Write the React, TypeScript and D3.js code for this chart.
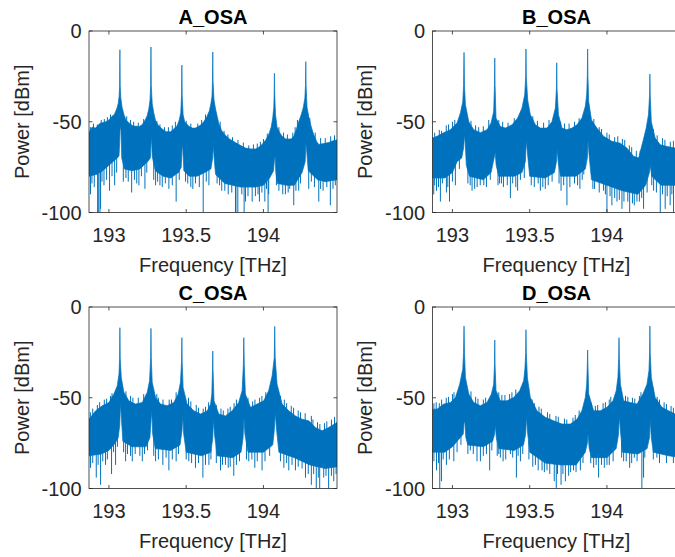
import React from 'react';
import * as d3 from 'd3';

type P = [number, number];

const freqDomain: P = [192.871, 194.476];
const powerDomain: P = [-100, 0];
const xTicks = [193, 193.5, 194];
const yTicks = [0, -50, -100];
const titles = ['A_OSA', 'B_OSA', 'C_OSA', 'D_OSA'];
const xLabel = 'Frequency [THz]';
const yLabel = 'Power [dBm]';

// ---- A_OSA ----
const upperA: P[] = [[192.871,-56],[192.89,-53],[192.914,-53.5],[192.94,-51],[192.957,-50.5],[192.98,-50],[193.0,-49],[193.02,-47],[193.035,-46],[193.05,-43],[193.06,-40],[193.066,-36],[193.069,-30],[193.071,-10.3],[193.073,-30],[193.077,-37],[193.085,-42],[193.097,-46],[193.11,-49],[193.129,-50.5],[193.15,-52],[193.172,-52.5],[193.2,-52.5],[193.216,-51.5],[193.235,-49],[193.248,-46.5],[193.258,-43],[193.266,-38],[193.27,-30],[193.272,-8.8],[193.274,-30],[193.28,-40],[193.29,-45],[193.302,-49.5],[193.32,-52],[193.345,-54],[193.37,-55.5],[193.399,-55.5],[193.42,-54],[193.442,-52],[193.455,-49],[193.465,-45],[193.47,-35],[193.472,-18.8],[193.474,-35],[193.48,-46],[193.49,-50],[193.517,-52.5],[193.54,-53.5],[193.56,-53.5],[193.59,-52],[193.614,-50],[193.635,-47],[193.65,-44],[193.66,-40],[193.667,-36],[193.67,-28],[193.672,-11.6],[193.674,-28],[193.68,-38],[193.69,-43],[193.711,-51],[193.73,-55],[193.754,-57.5],[193.78,-59.5],[193.819,-61.5],[193.85,-63],[193.884,-64.5],[193.92,-65],[193.948,-65],[193.97,-64],[193.991,-62.5],[194.015,-60],[194.034,-57],[194.05,-53],[194.06,-48],[194.067,-42],[194.069,-35],[194.071,-23.3],[194.073,-35],[194.078,-46],[194.088,-53],[194.105,-56],[194.121,-58],[194.145,-59.5],[194.164,-59.5],[194.18,-59.5],[194.196,-58],[194.21,-55],[194.228,-50],[194.245,-46],[194.258,-42],[194.268,-37],[194.272,-30],[194.274,-16.9],[194.276,-30],[194.282,-42],[194.293,-47],[194.31,-53],[194.325,-57],[194.345,-61],[194.358,-62.5],[194.39,-62],[194.422,-61.5],[194.45,-60.5],[194.476,-60]];
const lowerA: P[] = [[192.871,-80],[192.92,-79],[192.96,-77],[193.0,-74],[193.04,-71],[193.065,-69],[193.069,-62],[193.073,-52],[193.078,-55],[193.083,-70],[193.1,-76],[193.15,-77],[193.2,-76],[193.25,-72],[193.268,-70],[193.272,-63],[193.276,-58],[193.28,-69],[193.3,-77],[193.35,-80],[193.4,-81],[193.45,-78],[193.468,-75],[193.474,-63],[193.478,-65],[193.485,-77],[193.52,-80],[193.57,-80],[193.62,-78],[193.66,-76],[193.671,-70],[193.675,-63],[193.683,-72],[193.69,-79],[193.75,-84],[193.8,-85],[193.85,-86],[193.9,-86],[193.95,-86],[194.0,-85],[194.04,-81],[194.065,-77],[194.071,-71],[194.075,-69],[194.08,-78],[194.09,-84],[194.15,-85],[194.2,-85],[194.25,-78],[194.27,-72],[194.275,-62],[194.279,-65],[194.29,-77],[194.35,-82],[194.4,-83],[194.476,-82]];
const dipsA: P[] = [[192.881,-90],[192.927,-100],[192.931,-100],[192.942,-100],[192.946,-98],[192.968,-85],[193.004,-88],[193.037,-85],[193.093,-83],[193.147,-89],[193.194,-85],[193.233,-87],[193.302,-85],[193.33,-85],[193.388,-87],[193.435,-94],[193.496,-83],[193.543,-87],[193.61,-100],[193.647,-85],[193.716,-85],[193.772,-90],[193.819,-100],[193.822,-100],[193.834,-100],[193.875,-100],[193.884,-94],[193.927,-94],[193.948,-91],[193.974,-94],[194.009,-94],[194.03,-100],[194.034,-90],[194.084,-85],[194.142,-90],[194.17,-87],[194.196,-96],[194.228,-88],[194.293,-87],[194.358,-94],[194.386,-88],[194.433,-96],[194.465,-85]];
const fringeA: P[] = [[192.89,-84],[192.905,-86],[192.955,-83],[192.985,-82],[193.02,-80],[193.05,-78],[193.11,-81],[193.125,-83],[193.165,-82],[193.18,-84],[193.21,-80],[193.245,-78],[193.29,-82],[193.315,-83],[193.345,-86],[193.365,-84],[193.41,-85],[193.455,-82],[193.51,-84],[193.53,-86],[193.56,-84],[193.585,-86],[193.63,-83],[193.7,-84],[193.73,-88],[193.75,-88],[193.795,-89],[193.86,-90],[193.9,-91],[193.965,-90],[193.99,-89],[194.02,-87],[194.1,-88],[194.125,-90],[194.16,-89],[194.21,-88],[194.24,-84],[194.31,-83],[194.33,-86],[194.37,-87],[194.41,-86],[194.45,-87]];
const crestA: P[] = [[192.88,-53],[192.9,-51],[192.925,-51.5],[192.95,-49],[192.97,-48.5],[192.99,-47.5],[193.01,-46],[193.115,-47],[193.14,-49],[193.16,-50],[193.19,-50.5],[193.225,-48.5],[193.31,-49.5],[193.33,-51.5],[193.36,-53],[193.385,-53],[193.41,-52],[193.43,-50],[193.5,-49.5],[193.53,-51],[193.575,-51],[193.6,-49],[193.625,-46],[193.72,-50],[193.745,-55],[193.77,-57],[193.8,-58.5],[193.835,-60],[193.87,-61.5],[193.905,-63],[193.935,-62.5],[193.96,-62],[193.98,-61],[194.0,-59.5],[194.025,-56.5],[194.1,-53],[194.13,-56],[194.155,-57],[194.19,-56],[194.205,-53],[194.22,-49],[194.3,-48],[194.335,-56],[194.37,-59],[194.4,-59],[194.435,-58],[194.46,-57.5]];

// ---- B_OSA ----
const upperB: P[] = [[192.871,-59],[192.9,-58],[192.944,-56],[192.987,-54.4],[193.03,-50.7],[193.052,-45],[193.067,-39],[193.072,-30],[193.075,-11.8],[193.078,-30],[193.084,-40.6],[193.106,-50],[193.138,-54.4],[193.181,-56],[193.224,-54.4],[193.25,-50.7],[193.267,-44.3],[193.272,-30],[193.274,-14.9],[193.276,-30],[193.282,-48],[193.31,-52.6],[193.343,-53.5],[193.386,-51.7],[193.422,-48],[193.45,-42.5],[193.468,-35],[193.474,-25],[193.476,-9.9],[193.478,-25],[193.487,-38],[193.504,-46],[193.537,-51.7],[193.569,-53.5],[193.612,-53.5],[193.644,-50],[193.666,-42.5],[193.673,-32],[193.675,-17.5],[193.677,-32],[193.686,-46],[193.709,-53.5],[193.741,-54.4],[193.774,-53.5],[193.806,-51.7],[193.838,-48],[193.86,-41.5],[193.869,-35],[193.873,-25],[193.875,-9.9],[193.877,-25],[193.882,-39],[193.9,-49],[193.935,-53.5],[193.978,-58],[194.032,-60.8],[194.086,-61.8],[194.129,-64.5],[194.172,-69],[194.205,-70],[194.233,-60.8],[194.254,-53.5],[194.269,-46],[194.276,-35],[194.278,-23.7],[194.28,-35],[194.287,-50],[194.312,-59],[194.345,-62.7],[194.388,-63.6],[194.442,-64.5],[194.476,-64.5]];
const lowerB: P[] = [[192.871,-81],[192.95,-81],[193.0,-78],[193.03,-72],[193.06,-70],[193.073,-64],[193.078,-57],[193.083,-62],[193.09,-74],[193.11,-80],[193.2,-82],[193.25,-78],[193.27,-70],[193.277,-67],[193.283,-74],[193.3,-80],[193.4,-80],[193.45,-78],[193.472,-72],[193.478,-60],[193.484,-66],[193.5,-80],[193.6,-81],[193.66,-78],[193.673,-72],[193.678,-65],[193.684,-72],[193.7,-80],[193.8,-80],[193.86,-76],[193.873,-70],[193.878,-60],[193.884,-68],[193.9,-82],[194.0,-85],[194.1,-88],[194.2,-90],[194.25,-85],[194.275,-78],[194.28,-74],[194.29,-80],[194.35,-85],[194.476,-85]];
const dipsB: P[] = [[192.879,-90],[192.897,-88],[192.922,-94],[192.961,-89],[192.981,-94],[193.019,-85],[193.127,-88],[193.144,-87],[193.203,-85],[193.295,-85],[193.317,-84],[193.375,-92],[193.422,-88],[193.465,-81],[193.569,-88],[193.601,-87],[193.703,-88],[193.741,-96],[193.825,-87],[193.85,-79],[193.909,-87],[193.978,-88],[194.0,-100],[194.032,-96],[194.065,-94],[194.097,-98],[194.147,-100],[194.177,-96],[194.194,-94],[194.237,-98],[194.302,-88],[194.345,-100],[194.377,-98],[194.409,-96],[194.431,-100]];
const fringeB: P[] = [[192.885,-85],[192.91,-86],[192.935,-84],[192.97,-86],[193.0,-83],[193.045,-76],[193.1,-84],[193.115,-85],[193.16,-86],[193.18,-85],[193.22,-86],[193.245,-82],[193.305,-84],[193.33,-86],[193.355,-85],[193.39,-84],[193.41,-86],[193.44,-82],[193.51,-85],[193.53,-86],[193.555,-84],[193.585,-86],[193.62,-85],[193.645,-83],[193.69,-84],[193.72,-85],[193.76,-86],[193.79,-84],[193.81,-85],[193.84,-82],[193.92,-87],[193.95,-89],[193.99,-90],[194.02,-91],[194.05,-92],[194.08,-93],[194.11,-94],[194.135,-94],[194.165,-95],[194.21,-94],[194.225,-92],[194.26,-89],[194.29,-85],[194.32,-89],[194.36,-90],[194.39,-91],[194.42,-90],[194.45,-91]];
const crestB: P[] = [[192.885,-56],[192.915,-54.5],[192.93,-55],[192.96,-52],[192.975,-51.5],[193.0,-50],[193.015,-49],[193.12,-49.5],[193.15,-52],[193.17,-53],[193.2,-52.5],[193.235,-49],[193.3,-49],[193.325,-50],[193.36,-50.5],[193.4,-48],[193.52,-47],[193.55,-49.5],[193.59,-50.5],[193.625,-49],[193.7,-50],[193.725,-51],[193.755,-51],[193.79,-50],[193.82,-48],[193.915,-48.5],[193.95,-53],[193.965,-54],[194.0,-56],[194.015,-57],[194.05,-58.5],[194.07,-58],[194.1,-59.5],[194.115,-60],[194.145,-63],[194.16,-64],[194.19,-66],[194.215,-66],[194.3,-54],[194.325,-57.5],[194.36,-59],[194.375,-60],[194.41,-61],[194.43,-60.5],[194.455,-61]];

// ---- C_OSA ----
const upperC: P[] = [[192.871,-61.8],[192.914,-57.2],[192.957,-54.4],[193.0,-52.6],[193.032,-48],[193.054,-43.4],[193.065,-37],[193.069,-28],[193.071,-11.4],[193.073,-28],[193.08,-39],[193.097,-47],[193.129,-51.7],[193.172,-53.5],[193.216,-52.6],[193.248,-47],[193.263,-40.6],[193.27,-28],[193.272,-11.8],[193.274,-28],[193.28,-41.5],[193.302,-49.8],[193.334,-53.5],[193.377,-54.4],[193.42,-52.6],[193.448,-48],[193.463,-41.5],[193.47,-30],[193.472,-16.9],[193.474,-30],[193.48,-44.3],[193.506,-53.5],[193.55,-57.2],[193.593,-59],[193.636,-57.2],[193.658,-53.5],[193.666,-48],[193.67,-35],[193.672,-24.3],[193.674,-35],[193.68,-51.7],[193.711,-59],[193.754,-60],[193.797,-57.2],[193.84,-52.6],[193.862,-46],[193.87,-32],[193.873,-16.9],[193.876,-32],[193.883,-48],[193.916,-55.3],[193.959,-53.5],[194.002,-51.7],[194.034,-46],[194.056,-38],[194.07,-28],[194.073,-10.7],[194.076,-28],[194.088,-42.5],[194.121,-53.5],[194.164,-57.2],[194.207,-60],[194.25,-61.8],[194.293,-62.7],[194.336,-66.4],[194.379,-68.2],[194.422,-66.4],[194.476,-63.6]];
const lowerC: P[] = [[192.871,-82],[192.95,-81],[193.0,-79],[193.04,-75],[193.06,-72],[193.07,-65],[193.075,-53],[193.08,-60],[193.09,-74],[193.15,-77],[193.24,-77],[193.265,-72],[193.273,-62],[193.277,-57],[193.283,-70],[193.3,-78],[193.4,-79],[193.46,-76],[193.473,-68],[193.478,-60],[193.484,-70],[193.5,-80],[193.6,-82],[193.66,-80],[193.672,-72],[193.676,-62],[193.683,-70],[193.7,-82],[193.8,-83],[193.855,-80],[193.868,-72],[193.874,-61],[193.88,-70],[193.9,-80],[194.0,-80],[194.06,-76],[194.07,-68],[194.077,-58],[194.083,-66],[194.1,-80],[194.2,-83],[194.3,-87],[194.4,-89],[194.476,-88]];
const dipsC: P[] = [[192.881,-88.6],[192.918,-94],[192.946,-98],[192.978,-87],[193.017,-92],[193.043,-87],[193.108,-85],[193.151,-85],[193.216,-85],[193.302,-85],[193.349,-87],[193.388,-90],[193.435,-85],[193.517,-85],[193.56,-88.6],[193.608,-94],[193.647,-87],[193.722,-90],[193.754,-87],[193.772,-88.6],[193.808,-93],[193.905,-85],[193.944,-88.6],[193.991,-90],[194.132,-88.6],[194.164,-90],[194.207,-90],[194.272,-94],[194.31,-98],[194.342,-100],[194.364,-100],[194.39,-94],[194.422,-100],[194.455,-96]];
const fringeC: P[] = [[192.895,-86],[192.93,-87],[192.96,-85],[192.99,-84],[193.03,-80],[193.055,-77],[193.095,-80],[193.12,-81],[193.14,-82],[193.17,-81],[193.2,-82],[193.23,-81],[193.25,-79],[193.29,-82],[193.32,-84],[193.37,-83],[193.41,-84],[193.45,-81],[193.5,-84],[193.535,-86],[193.58,-86],[193.625,-87],[193.66,-84],[193.695,-86],[193.735,-87],[193.785,-88],[193.825,-87],[193.845,-85],[193.89,-84],[193.925,-84],[193.96,-85],[194.01,-85],[194.04,-82],[194.11,-85],[194.15,-86],[194.185,-87],[194.225,-88],[194.25,-89],[194.29,-92],[194.325,-92],[194.355,-94],[194.405,-93],[194.44,-93],[194.47,-92]];
const crestC: P[] = [[192.88,-58],[192.895,-56],[192.925,-54],[192.94,-52.5],[192.97,-51],[192.985,-50.5],[193.01,-49],[193.02,-47.5],[193.11,-46.5],[193.14,-49],[193.155,-50],[193.19,-50],[193.225,-48],[193.31,-48],[193.32,-50],[193.35,-51],[193.39,-51],[193.405,-51],[193.435,-47],[193.515,-50],[193.53,-52],[193.565,-54],[193.58,-55.5],[193.61,-56],[193.625,-55],[193.645,-52.5],[193.695,-54],[193.725,-56],[193.74,-57],[193.77,-56],[193.785,-55],[193.81,-53],[193.825,-51],[193.9,-50],[193.93,-52],[193.945,-51],[193.975,-50],[193.99,-49],[194.015,-47],[194.11,-49],[194.135,-51],[194.15,-53],[194.18,-54.5],[194.195,-55.5],[194.225,-57],[194.24,-58],[194.27,-58.5],[194.31,-60],[194.32,-62],[194.35,-63.5],[194.365,-64.5],[194.395,-64],[194.41,-63],[194.44,-62],[194.46,-60.5]];

// ---- D_OSA ----
const upperD: P[] = [[192.871,-56.3],[192.9,-56.3],[192.944,-53.5],[192.987,-52.6],[193.019,-50],[193.047,-42.5],[193.067,-34.2],[193.072,-25],[193.075,-10.5],[193.078,-25],[193.084,-38.8],[193.106,-48],[193.138,-52.6],[193.181,-54.4],[193.224,-52.6],[193.252,-48],[193.267,-42.5],[193.272,-32],[193.274,-18.2],[193.276,-32],[193.282,-46],[193.31,-51.7],[193.353,-51.7],[193.397,-49.8],[193.435,-46.1],[193.461,-40.6],[193.469,-34.2],[193.474,-25],[193.476,-12.5],[193.478,-25],[193.485,-38.8],[193.504,-49.8],[193.547,-57.2],[193.601,-60.8],[193.655,-62.7],[193.709,-64.5],[193.763,-64.5],[193.806,-61.8],[193.838,-57.2],[193.86,-49.8],[193.869,-42.5],[193.873,-32],[193.875,-23.7],[193.877,-32],[193.882,-48],[193.914,-57.2],[193.957,-57.2],[194.0,-55.3],[194.039,-51.7],[194.06,-46.1],[194.071,-38.8],[194.076,-28],[194.078,-16.9],[194.08,-28],[194.087,-42.5],[194.108,-51.7],[194.151,-52.6],[194.194,-53.5],[194.233,-48],[194.259,-42.5],[194.272,-35],[194.276,-25],[194.278,-10.5],[194.28,-25],[194.287,-38.8],[194.312,-49.8],[194.356,-55.3],[194.399,-57.2],[194.442,-59],[194.476,-59]];
const lowerD: P[] = [[192.871,-80],[192.95,-80],[193.0,-77],[193.04,-73],[193.07,-70],[193.075,-64],[193.08,-63],[193.087,-72],[193.1,-76],[193.2,-77],[193.26,-74],[193.273,-70],[193.278,-65],[193.284,-72],[193.3,-78],[193.4,-79],[193.46,-76],[193.474,-70],[193.479,-60],[193.485,-68],[193.5,-80],[193.6,-86],[193.7,-87],[193.8,-87],[193.86,-80],[193.873,-75],[193.878,-70],[193.885,-78],[193.9,-83],[194.0,-83],[194.06,-78],[194.075,-70],[194.08,-60],[194.087,-68],[194.1,-80],[194.2,-81],[194.26,-78],[194.275,-72],[194.28,-62],[194.287,-72],[194.3,-80],[194.4,-82],[194.476,-83]];
const dipsD: P[] = [[192.869,-94],[192.897,-90],[192.918,-100],[192.929,-96],[192.961,-87],[193.009,-85],[193.116,-79],[193.159,-85],[193.181,-85],[193.241,-90],[193.3,-81],[193.328,-85],[193.375,-81],[193.414,-94],[193.44,-85],[193.537,-87],[193.58,-90],[193.612,-90],[193.659,-96],[193.672,-100],[193.703,-98],[193.731,-96],[193.752,-93],[193.784,-90],[193.828,-90],[193.914,-88.6],[193.946,-94],[193.983,-88.6],[194.015,-87],[194.108,-85],[194.147,-88.6],[194.177,-83],[194.226,-100],[194.237,-94],[194.323,-83],[194.366,-79],[194.409,-81]];
const fringeD: P[] = [[192.88,-85],[192.91,-86],[192.94,-84],[192.98,-84],[193.03,-80],[193.055,-76],[193.1,-81],[193.135,-81],[193.2,-82],[193.22,-81],[193.255,-79],[193.29,-82],[193.31,-83],[193.345,-84],[193.39,-83],[193.425,-82],[193.455,-81],[193.495,-84],[193.52,-88],[193.555,-90],[193.595,-91],[193.63,-92],[193.68,-92],[193.715,-92],[193.765,-91],[193.8,-91],[193.845,-86],[193.895,-86],[193.93,-87],[193.965,-87],[194.0,-87],[194.04,-85],[194.095,-83],[194.125,-85],[194.16,-86],[194.195,-85],[194.245,-83],[194.3,-84],[194.34,-86],[194.385,-86],[194.43,-86],[194.46,-87]];
const crestD: P[] = [[192.88,-53],[192.895,-52.5],[192.915,-53],[192.93,-51],[192.96,-50],[192.975,-49.5],[193.0,-48],[193.01,-47],[193.12,-46.5],[193.15,-49.5],[193.165,-50.5],[193.2,-51],[193.215,-50],[193.3,-47],[193.32,-48.5],[193.34,-48.5],[193.37,-48],[193.385,-47],[193.41,-45.5],[193.515,-51],[193.53,-53],[193.56,-55],[193.575,-56],[193.615,-58],[193.63,-59],[193.67,-60],[193.685,-60.5],[193.725,-61.5],[193.74,-62],[193.78,-61],[193.795,-59.5],[193.82,-57],[193.9,-53],[193.925,-54.5],[193.94,-54],[193.975,-53],[193.99,-52.5],[194.015,-51],[194.025,-49.5],[194.095,-47],[194.12,-49],[194.135,-49.5],[194.165,-50],[194.18,-50.5],[194.21,-49],[194.22,-47],[194.3,-45],[194.325,-49.5],[194.34,-51],[194.37,-52.5],[194.385,-53.5],[194.415,-54.5],[194.43,-55.5],[194.46,-56]];

const uppers = [upperA, upperB, upperC, upperD];
const lowers = [lowerA, lowerB, lowerC, lowerD];
const dipsAll = [dipsA, dipsB, dipsC, dipsD];
const fringesAll = [fringeA, fringeB, fringeC, fringeD];
const crestsAll = [crestA, crestB, crestC, crestD];

const LINE = '#0072BD';
const AX = '#262626';
const FONT = '"Liberation Sans", Arial, Helvetica, sans-serif';
const W = 248;
const H = 181.5;
const layout = [
  { left: 89, top: 31 },
  { left: 432.5, top: 31 },
  { left: 89, top: 307 },
  { left: 432.5, top: 307 },
];

function interpAt(arr: P[], f: number) {
  const bis = d3.bisector((d: P) => d[0]).left;
  const i = Math.max(1, Math.min(arr.length - 1, bis(arr, f)));
  const a = arr[i - 1];
  const b = arr[i];
  const t = (f - a[0]) / (b[0] - a[0]);
  return a[1] + t * (b[1] - a[1]);
}

function Panel({ idx }: { idx: number }) {
  const { left, top } = layout[idx];
  const upper = uppers[idx];
  const lower = lowers[idx];
  const dips = [...dipsAll[idx], ...fringesAll[idx]];
  const crests = crestsAll[idx];
  const x = d3.scaleLinear().domain(freqDomain).range([left, left + W]);
  const y = d3.scaleLinear().domain(powerDomain).range([top + H, top]);
  const line = d3.line<P>().x((d) => x(d[0])).y((d) => y(d[1]));
  const band = line([...upper, ...[...lower].reverse()]) + 'Z';
  const clipId = `clip${idx}`;
  const tl = 3.5;
  const bottom = top + H;
  const right = left + W;
  return (
    <g>
      <defs>
        <clipPath id={clipId}>
          <rect x={left} y={top} width={W} height={H} />
        </clipPath>
      </defs>
      <g clipPath={`url(#${clipId})`}>
        <path d={band} fill={LINE} stroke={LINE} strokeWidth={0.7} strokeLinejoin="round" />
        {dips.map((d, i) => (
          <line key={'d' + i} x1={x(d[0])} x2={x(d[0])} y1={y(interpAt(lower, d[0]) + 2)} y2={y(d[1])} stroke={LINE} strokeWidth={1} />
        ))}
        {crests.map((d, i) => (
          <line key={'c' + i} x1={x(d[0])} x2={x(d[0])} y1={y(interpAt(upper, d[0]) - 1.5)} y2={y(d[1])} stroke={LINE} strokeWidth={1} />
        ))}
      </g>
      <rect x={left} y={top} width={W} height={H} fill="none" stroke={AX} strokeWidth={0.8} />
      {xTicks.map((t) => (
        <g key={'x' + t}>
          <line x1={x(t)} x2={x(t)} y1={bottom} y2={bottom - tl} stroke={AX} strokeWidth={0.8} />
          <line x1={x(t)} x2={x(t)} y1={top} y2={top + tl} stroke={AX} strokeWidth={0.8} />
          <text x={x(t)} y={bottom + 29.5} textAnchor="middle" fontSize={20} fill={AX} fontFamily={FONT}>{t}</text>
        </g>
      ))}
      {yTicks.map((t) => (
        <g key={'y' + t}>
          <line x1={left} x2={left + tl} y1={y(t)} y2={y(t)} stroke={AX} strokeWidth={0.8} />
          <line x1={right} x2={right - tl} y1={y(t)} y2={y(t)} stroke={AX} strokeWidth={0.8} />
          <text x={left - 7.5} y={y(t) + 7} textAnchor="end" fontSize={20} fill={AX} fontFamily={FONT}>{t}</text>
        </g>
      ))}
      <text x={left + W / 2} y={bottom + 59.5} textAnchor="middle" fontSize={20} fill={AX} fontFamily={FONT}>{xLabel}</text>
      <text transform={`translate(${left - 60.5},${top + H / 2}) rotate(-90)`} textAnchor="middle" fontSize={20} fill={AX} fontFamily={FONT}>{yLabel}</text>
      <text x={left + W / 2} y={top - 7} textAnchor="middle" fontSize={20} fontWeight="bold" fill="#000" fontFamily={FONT}>{titles[idx]}</text>
    </g>
  );
}

export default function App() {
  return (
    <svg width={675} height={557} style={{ position: 'absolute', left: 0, top: 0, background: '#fff' }}>
      <rect width={675} height={557} fill="#fff" />
      {[0, 1, 2, 3].map((i) => (
        <Panel key={i} idx={i} />
      ))}
    </svg>
  );
}
